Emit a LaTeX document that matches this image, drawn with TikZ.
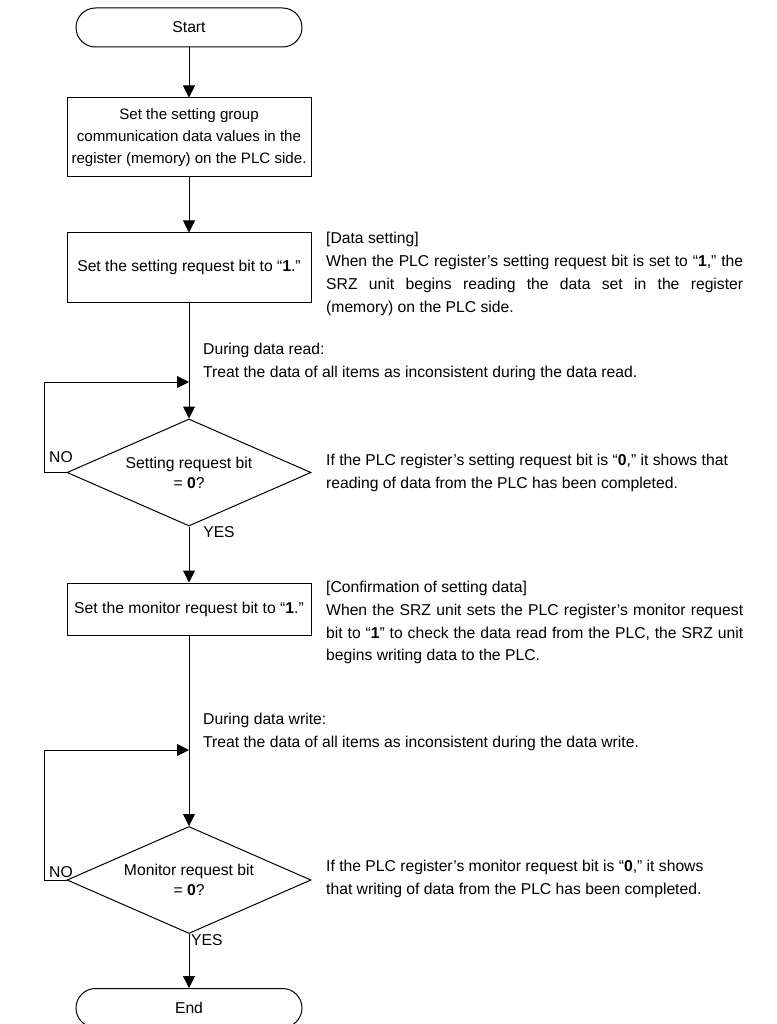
\documentclass[tikz,border=0pt]{standalone}
\usepackage{fontspec}
\setmainfont{Liberation Sans}
\usetikzlibrary{arrows.meta,shapes.geometric}
\begin{document}
\begin{tikzpicture}[x=1pt,y=-1pt,
  every node/.style={font=\fontsize{15.7}{22.8}\selectfont},
  term/.style={draw, line width=1pt, rounded corners=19.5pt, minimum width=226pt, minimum height=39pt, inner sep=0},
  proc/.style={draw, line width=1pt, minimum width=244pt, inner sep=0, align=center, font=\fontsize{15.7}{22}\selectfont},
  dec/.style={draw, line width=1pt, diamond, aspect=2.28, minimum width=244pt, minimum height=107pt, inner sep=0, align=center, font=\fontsize{15.7}{20}\selectfont},
  note/.style={anchor=north west, inner sep=0, align=left},
  lbl/.style={inner sep=0},
  arr/.style={line width=1pt, -{Triangle[length=12pt,width=12pt]}}
]
\path[use as bounding box] (0,0) rectangle (776,1024);
\clip (0,0) rectangle (776,1024);

% flow nodes
\node[term] (start) at (189,27.5) {Start};
\node[proc, minimum height=79pt, font=\fontsize{15.1}{22}\selectfont] (b1) at (189,137.5) {Set the setting group\\communication data values in the\\register (memory) on the PLC side.};
\node[proc, minimum height=69pt] (b2) at (189,267.5) {Set the setting request bit to “\textbf{1}.”};
\node[dec] (d1) at (189,472.5) {Setting request bit\\= \textbf{0}?};
\node[proc, minimum height=52pt] (b3) at (189,609) {Set the monitor request bit to “\textbf{1}.”};
\node[dec] (d2) at (189,880) {Monitor request bit\\= \textbf{0}?};
\node[term] (end) at (189,1008) {End};

% loop coordinates
\coordinate (j1) at (189,382);
\coordinate (k1) at (44,382);
\coordinate (j2) at (189,750);
\coordinate (k2) at (44,750);

% connectors
\draw[arr] (start) -- (b1);
\draw[arr] (b1) -- (b2);
\draw[arr] (b2) -- (d1);
\draw[arr] (d1.west) -| (k1) -- (j1);
\draw[arr] (d1) -- (b3);
\draw[arr] (b3) -- (d2);
\draw[arr] (d2.west) -| (k2) -- (j2);
\draw[arr] (d2) -- (end);

% labels
\node[lbl] (no1) at (61,457) {NO};
\node[lbl] (yes1) at (219,532) {YES};
\node[lbl] (no2) at (61,872) {NO};
\node[lbl, anchor=west] (yes2) at (191,940) {YES};

% notes
\node[note] (n1) at (326,227.5) {\strut[Data setting]\\
\makebox[417pt][s]{When the PLC register’s setting request bit is set to “\textbf{1},” the}\\
\makebox[417pt][s]{SRZ unit begins reading the data set in the register}\\
(memory) on the PLC side.};

\node[note] (n2) at (203,338.5) {\strut During data read:\\
Treat the data of all items as inconsistent during the data read.};

\node[note] (n3) at (326,449.6) {\strut If the PLC register’s setting request bit is “\textbf{0},” it shows that\\
reading of data from the PLC has been completed.};

\node[note] (n4) at (326,576.3) {\strut[Confirmation of setting data]\\
\makebox[417pt][s]{When the SRZ unit sets the PLC register’s monitor request}\\
\makebox[417pt][s]{bit to “\textbf{1}” to check the data read from the PLC, the SRZ unit}\\
begins writing data to the PLC.};

\node[note] (n5) at (203,708.5) {\strut During data write:\\
Treat the data of all items as inconsistent during the data write.};

\node[note] (n6) at (326,855.6) {\strut If the PLC register’s monitor request bit is “\textbf{0},” it shows\\
that writing of data from the PLC has been completed.};
\end{tikzpicture}
\end{document}
